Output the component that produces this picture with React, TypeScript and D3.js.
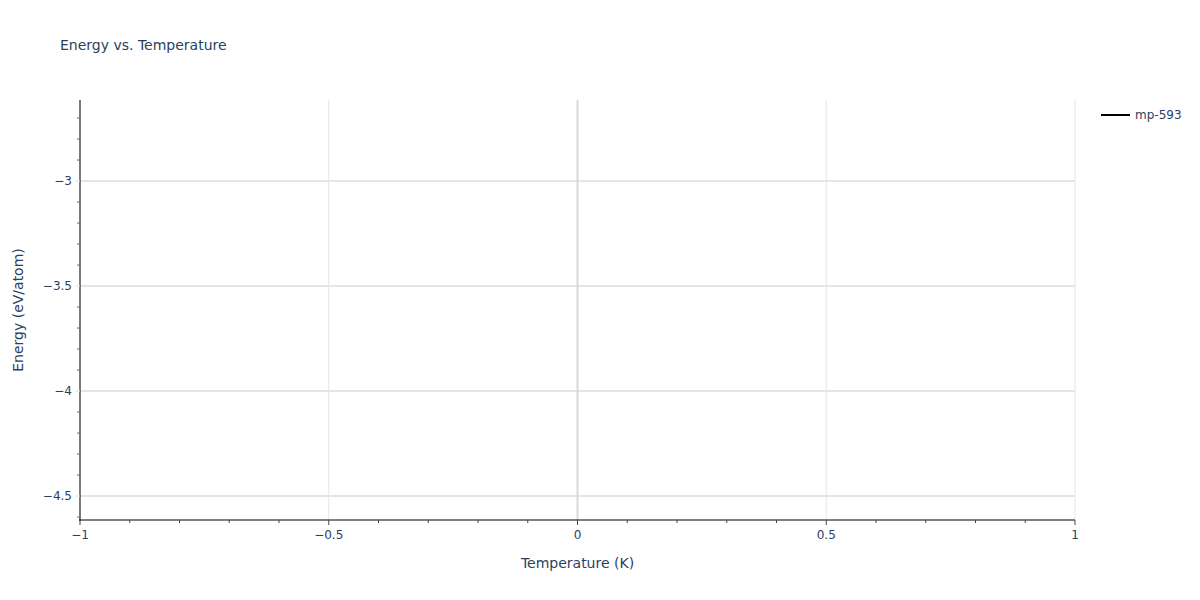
import React from "react";
import * as d3 from "d3";

const title = "Energy vs. Temperature";
const xLabel = "Temperature (K)";
const yLabel = "Energy (eV/atom)";
const seriesName = "mp-593";
const temperatures: number[] = [];
const energies: number[] = [];
const xDomain = [-1, 1];
const yDomain = [-4.614, -2.614];
const xTicks = [-1, -0.5, 0, 0.5, 1];
const yTicks = [-4.5, -4, -3.5, -3];

const W = 1200, H = 600;
const M = { left: 80, right: 125, top: 100, bottom: 80 };
const FONT = "'DejaVu Sans', Verdana, sans-serif";
const TXT = "#2a3f5f";

function fmt(v: number) {
  return v < 0 ? "\u2212" + String(Math.abs(v)) : String(v);
}

export default function App() {
  const x = d3.scaleLinear().domain(xDomain).range([M.left, W - M.right]);
  const y = d3.scaleLinear().domain(yDomain).range([H - M.bottom, M.top]);
  const line = d3.line<number>().x((_, i) => x(temperatures[i])).y((d) => y(d));
  const xMinor = d3.range(-10, 11).map((v) => v / 10).filter((v) => !xTicks.some((t) => Math.abs(t - v) < 1e-9));
  const yMinor = d3.range(-46, -26).map((v) => v / 10).filter((v) => v >= yDomain[0] && v <= yDomain[1] && !yTicks.some((t) => Math.abs(t - v) < 1e-9));
  const bottom = H - M.bottom;
  return (
    <svg width={W} height={H} style={{ position: "absolute", left: 0, top: 0, fontFamily: FONT }}>
      <rect x={0} y={0} width={W} height={H} fill="#fff" />
      {xTicks.filter((t) => t !== 0).map((t) => (
        <line key={"gx" + t} x1={x(t)} x2={x(t)} y1={M.top} y2={bottom} stroke="#e5e5e5" strokeWidth={1} />
      ))}
      {yTicks.map((t) => (
        <line key={"gy" + t} x1={M.left} x2={W - M.right} y1={y(t)} y2={y(t)} stroke="#e5e5e5" strokeWidth={2} />
      ))}
      <line x1={x(0)} x2={x(0)} y1={M.top} y2={bottom} stroke="#d9d9d9" strokeWidth={2} />
      <path d={line(energies) || ""} fill="none" stroke="#000" strokeWidth={2} />
      <line x1={M.left} x2={M.left} y1={M.top} y2={bottom + 1} stroke="#000" strokeWidth={1} />
      <line x1={M.left - 1} x2={W - M.right} y1={bottom} y2={bottom} stroke="#000" strokeWidth={1} />
      {xTicks.map((t) => (
        <g key={"xt" + t}>
          <line x1={x(t)} x2={x(t)} y1={bottom} y2={bottom + 5} stroke="#444" strokeWidth={1} />
          <text x={x(t)} y={bottom + 19} textAnchor="middle" fontSize={12} fill={TXT}>{fmt(t)}</text>
        </g>
      ))}
      {xMinor.map((t) => (
        <line key={"xm" + t} x1={x(t)} x2={x(t)} y1={bottom} y2={bottom + 3} stroke="#444" strokeWidth={1} />
      ))}
      {yTicks.map((t) => (
        <g key={"yt" + t}>
          <line x1={M.left - 5} x2={M.left} y1={y(t)} y2={y(t)} stroke="#e5e5e5" strokeWidth={1} />
          <text x={M.left - 8} y={y(t) + 4} textAnchor="end" fontSize={12} fill={TXT}>{fmt(t)}</text>
        </g>
      ))}
      {yMinor.map((t) => (
        <line key={"ym" + t} x1={M.left - 3} x2={M.left} y1={y(t)} y2={y(t)} stroke="#666" strokeWidth={1} />
      ))}
      <text x={60} y={50} fontSize={14} fill={TXT}>{title}</text>
      <text x={(M.left + W - M.right) / 2} y={568} textAnchor="middle" fontSize={14} fill={TXT}>{xLabel}</text>
      <text transform={`translate(23,${(M.top + bottom) / 2}) rotate(-90)`} textAnchor="middle" fontSize={14} fill={TXT}>{yLabel}</text>
      <line x1={1101} x2={1130} y1={115} y2={115} stroke="#000" strokeWidth={2} />
      <text x={1135} y={119} fontSize={12} fill={TXT}>{seriesName}</text>
    </svg>
  );
}
